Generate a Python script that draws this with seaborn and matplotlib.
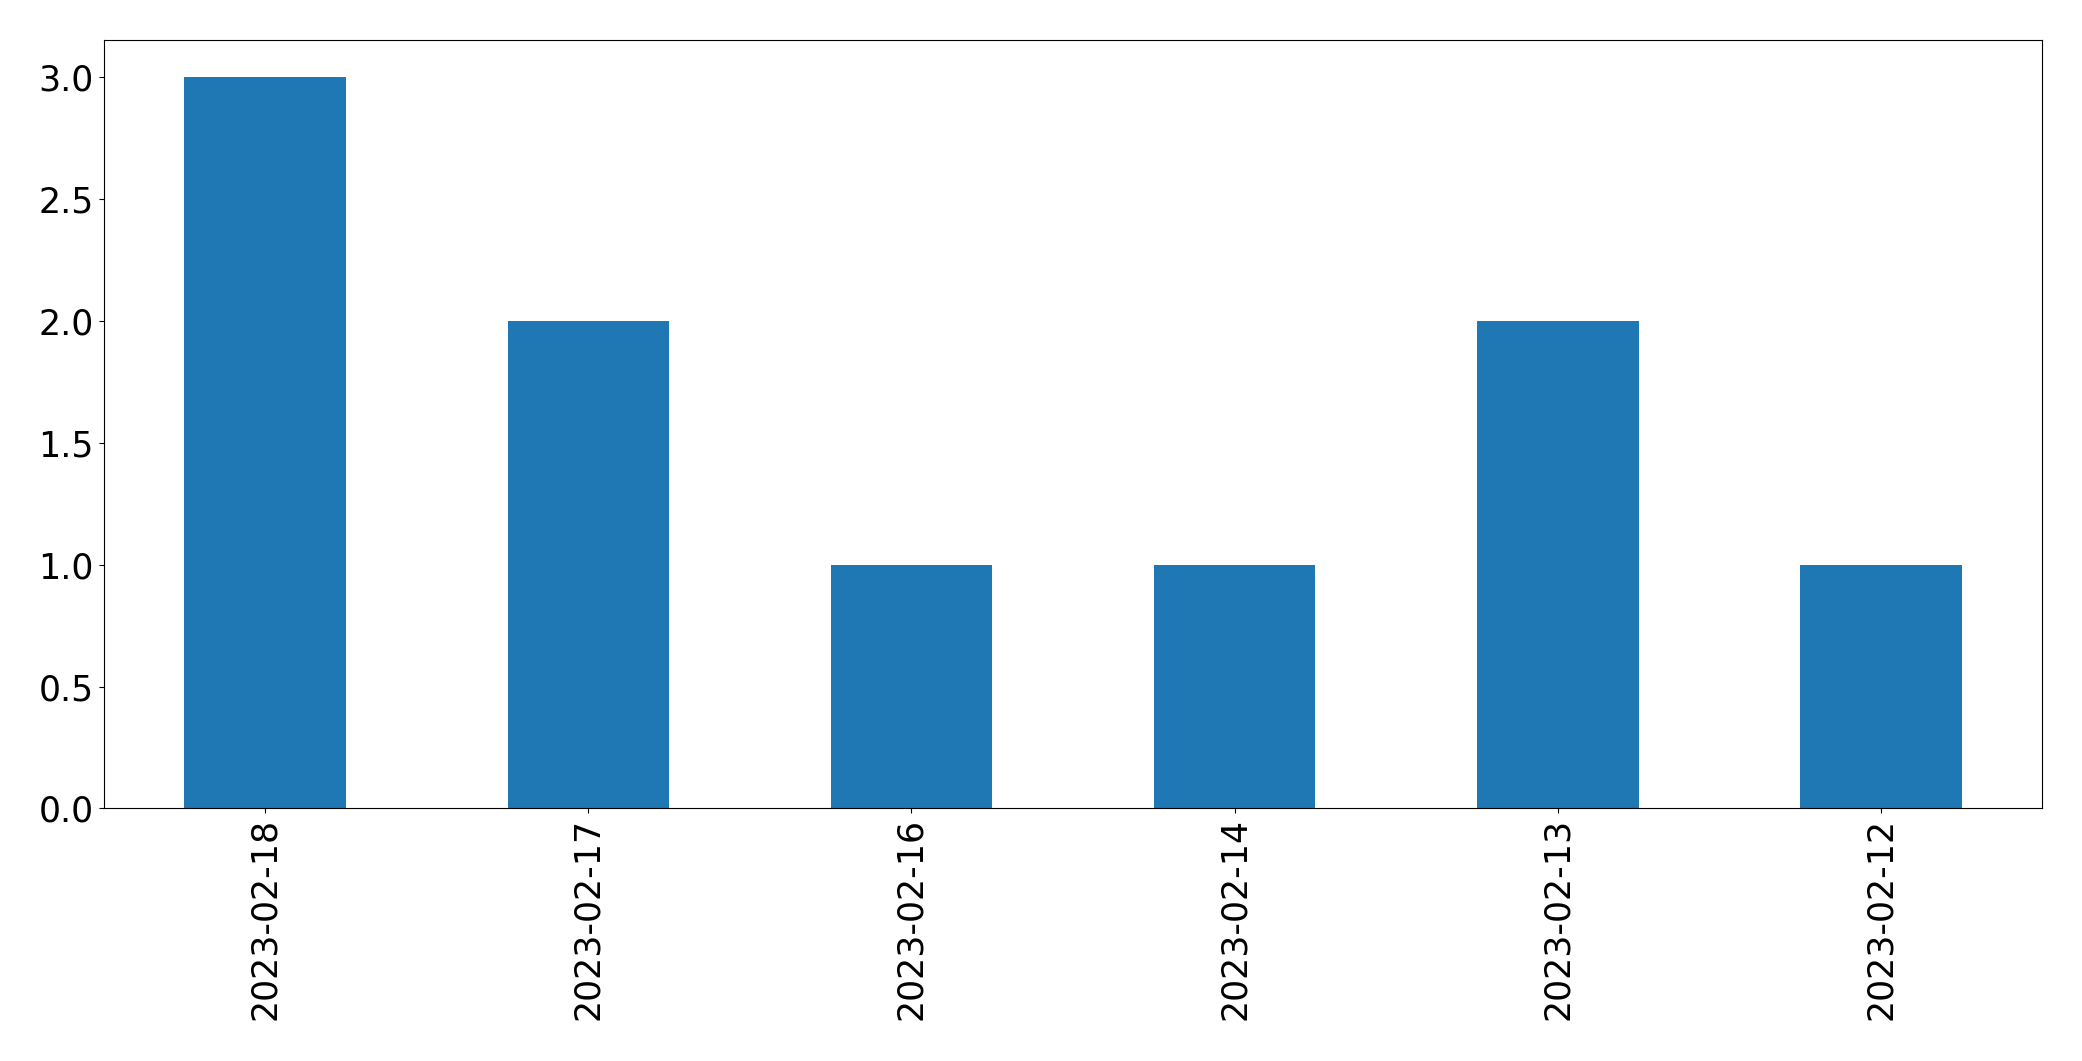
import matplotlib
matplotlib.use("Agg")
import matplotlib.pyplot as plt
import seaborn as sns
import pandas as pd

dates = ['2023-02-18', '2023-02-17', '2023-02-16', '2023-02-14', '2023-02-13', '2023-02-12']
counts = [3, 2, 1, 1, 2, 1]

data = pd.DataFrame({'date': dates, 'count': counts})

fig, ax = plt.subplots(figsize=(20.82, 10.61), dpi=100)
sns.barplot(x='date', y='count', data=data, order=dates, color='#1f77b4',
            saturation=1, width=0.5, ax=ax)
ax.set_xlim(-0.5, len(dates) - 0.5)
ax.set_xlabel('')
ax.set_ylabel('')
ax.tick_params(axis='both', labelsize=25)
plt.setp(ax.get_xticklabels(), rotation=90)
fig.subplots_adjust(left=0.0498, right=0.981, top=0.962, bottom=0.238)
plt.savefig('out.png')
